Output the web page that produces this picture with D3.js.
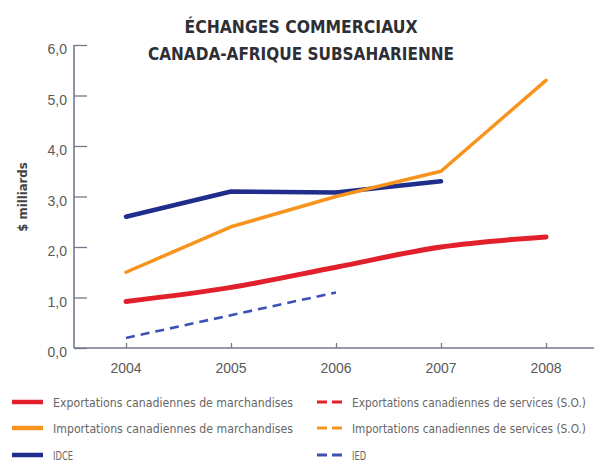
<!DOCTYPE html>
<html>
<head>
<meta charset="utf-8">
<script src="https://cdn.jsdelivr.net/npm/d3@7"></script>
<style>
  html, body { margin: 0; padding: 0; background: #fff; }
  svg { display: block; }
</style>
</head>
<body>
<svg id="chart" width="594" height="469"></svg>
<script>
// ---- data ----
const years = [2004, 2005, 2006, 2007, 2008];
const exportsMerch = [0.92, 1.2, 1.6, 2.0, 2.2];
const importsMerch = [1.5, 2.4, 3.0, 3.5, 5.3];
const idce = [2.6, 3.1, 3.08, 3.3, null];
const ied = [0.2, 0.65, 1.1, null, null];
const yTicks = [0, 1, 2, 3, 4, 5, 6];
const titleLines = ["ÉCHANGES COMMERCIAUX", "CANADA-AFRIQUE SUBSAHARIENNE"];
const yLabel = "$ milliards";
const legendLabels = [
  "Exportations canadiennes de marchandises",
  "Importations canadiennes de marchandises",
  "IDCE",
  "Exportations canadiennes de services (S.O.)",
  "Importations canadiennes de services (S.O.)",
  "IED"
];

// ---- styles ----
const C = { red: "#e2202b", orange: "#f7941d", navy: "#1f2e8c", blue: "#3b52b4", axis: "#75778c", text: "#5a5a5a" };
const condensed = "'Liberation Sans Narrow', 'DejaVu Sans Condensed', 'Liberation Sans', sans-serif";

const svg = d3.select("#chart");
const x = d3.scaleLinear().domain([2004, 2008]).range([126, 546]);
const y = d3.scaleLinear().domain([0, 6]).range([348, 45]);
const loc = d3.formatLocale({ decimal: ",", thousands: " ", grouping: [3], currency: ["", " $"] });
const fmt = loc.format(".1f");

// title
svg.selectAll("text.title").data(titleLines).join("text")
  .attr("class", "title")
  .attr("x", 301).attr("y", (d, i) => 33 + i * 27)
  .attr("text-anchor", "middle")
  .attr("font-family", condensed).attr("font-weight", "bold")
  .attr("font-size", 17).attr("fill", "#2e2e35")
  .attr("textLength", (d, i) => i === 0 ? 233 : 306)
  .attr("lengthAdjust", "spacingAndGlyphs")
  .text(d => d);

// y axis label
svg.append("text")
  .attr("transform", "translate(27,197) rotate(-90)")
  .attr("text-anchor", "middle")
  .attr("font-family", condensed).attr("font-weight", "bold")
  .attr("font-size", 13).attr("fill", "#444")
  .text(yLabel);

// y axis
const yAxis = d3.axisRight(y).tickValues(yTicks).tickSize(13).tickFormat("");
const gy = svg.append("g").attr("transform", "translate(74,0)").call(yAxis);
gy.select(".domain").remove();
gy.selectAll(".tick line").attr("stroke", C.axis).attr("stroke-width", 1.3);
svg.append("line").attr("x1", 74).attr("x2", 74).attr("y1", y(6)).attr("y2", y(0))
  .attr("stroke", C.axis).attr("stroke-width", 1.6);
svg.selectAll("text.ytick").data(yTicks).join("text")
  .attr("class", "ytick")
  .attr("x", 67).attr("y", d => y(d) + 9)
  .attr("text-anchor", "end")
  .attr("font-family", "'Liberation Sans', Arial, sans-serif")
  .attr("font-size", 14).attr("fill", C.text)
  .text(d => fmt(d));

// x axis
svg.append("line").attr("x1", 74).attr("x2", 594).attr("y1", y(0)).attr("y2", y(0))
  .attr("stroke", C.axis).attr("stroke-width", 1.6);
const xAxis = d3.axisTop(x).tickValues(years).tickSize(5).tickFormat("");
const gx = svg.append("g").attr("transform", `translate(0,${y(0)})`).call(xAxis);
gx.select(".domain").remove();
gx.selectAll(".tick line").attr("stroke", C.axis).attr("stroke-width", 1.3);
svg.selectAll("text.xtick").data(years).join("text")
  .attr("class", "xtick")
  .attr("x", d => x(d)).attr("y", 373)
  .attr("text-anchor", "middle")
  .attr("font-family", "'Liberation Sans', Arial, sans-serif")
  .attr("font-size", 14).attr("fill", C.text)
  .text(d => d);

// series
const series = [
  { vals: importsMerch, color: C.orange, w: 3.5, dash: null, curve: d3.curveLinear },
  { vals: idce, color: C.navy, w: 4.5, dash: null, curve: d3.curveLinear },
  { vals: exportsMerch, color: C.red, w: 5, dash: null, curve: d3.curveMonotoneX },
  { vals: ied, color: C.blue, w: 2.6, dash: "9,6", curve: d3.curveLinear }
];
const drawOrder = [series[1], series[0], series[2], series[3]];
drawOrder.forEach(s => {
  const pts = years.map((yr, i) => [yr, s.vals[i]]).filter(p => p[1] != null);
  const line = d3.line().x(p => x(p[0])).y(p => y(p[1])).curve(s.curve);
  svg.append("path").datum(pts)
    .attr("d", line)
    .attr("fill", "none")
    .attr("stroke", s.color)
    .attr("stroke-width", s.w)
    .attr("stroke-linecap", s.dash ? "butt" : "round")
    .attr("stroke-linejoin", "round")
    .attr("stroke-dasharray", s.dash);
});

// legend
const legendItems = [
  { label: legendLabels[0], color: C.red, dash: false, col: 0, row: 0, len: 240, fs: 12.5 },
  { label: legendLabels[1], color: C.orange, dash: false, col: 0, row: 1, len: 240, fs: 12.5 },
  { label: legendLabels[2], color: C.navy, dash: false, col: 0, row: 2, len: 20, fs: 12.5 },
  { label: legendLabels[3], color: C.red, dash: true, col: 1, row: 0, len: 234, fs: 11.5 },
  { label: legendLabels[4], color: C.orange, dash: true, col: 1, row: 1, len: 234, fs: 11.5 },
  { label: legendLabels[5], color: C.blue, dash: true, col: 1, row: 2, len: 14, fs: 12.5 }
];
const rowY = [402, 428, 455];
const colX = [12, 317];
legendItems.forEach(it => {
  const g = svg.append("g").attr("transform", `translate(${colX[it.col]},${rowY[it.row]})`);
  if (it.dash) {
    g.append("line").attr("x1", 0).attr("x2", 25).attr("y1", 0).attr("y2", 0)
      .attr("stroke", it.color).attr("stroke-width", 3).attr("stroke-dasharray", "10,5");
  } else {
    g.append("line").attr("x1", 0).attr("x2", 31).attr("y1", 0).attr("y2", 0)
      .attr("stroke", it.color).attr("stroke-width", 4.5);
  }
  g.append("text")
    .attr("x", it.dash ? 35 : 41).attr("y", 4.5)
    .attr("font-family", condensed)
    .attr("font-size", it.fs).attr("fill", "#666")
    .attr("textLength", it.len).attr("lengthAdjust", "spacingAndGlyphs")
    .text(it.label);
});
</script>
</body>
</html>
